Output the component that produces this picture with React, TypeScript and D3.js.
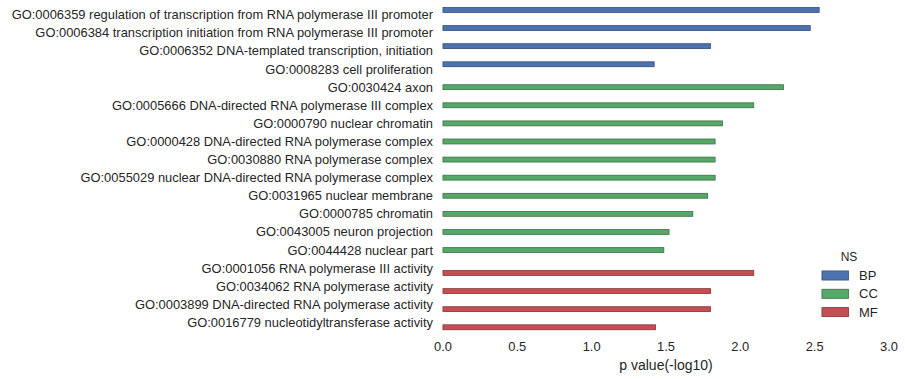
import React from "react";
import * as d3 from "d3";

const terms = [
  "GO:0006359 regulation of transcription from RNA polymerase III promoter",
  "GO:0006384 transcription initiation from RNA polymerase III promoter",
  "GO:0006352 DNA-templated transcription, initiation",
  "GO:0008283 cell proliferation",
  "GO:0030424 axon",
  "GO:0005666 DNA-directed RNA polymerase III complex",
  "GO:0000790 nuclear chromatin",
  "GO:0000428 DNA-directed RNA polymerase complex",
  "GO:0030880 RNA polymerase complex",
  "GO:0055029 nuclear DNA-directed RNA polymerase complex",
  "GO:0031965 nuclear membrane",
  "GO:0000785 chromatin",
  "GO:0043005 neuron projection",
  "GO:0044428 nuclear part",
  "GO:0001056 RNA polymerase III activity",
  "GO:0034062 RNA polymerase activity",
  "GO:0003899 DNA-directed RNA polymerase activity",
  "GO:0016779 nucleotidyltransferase activity",
];
const namespaces = ["BP", "BP", "BP", "BP", "CC", "CC", "CC", "CC", "CC", "CC", "CC", "CC", "CC", "CC", "MF", "MF", "MF", "MF"];
const pvalues = [2.53, 2.47, 1.80, 1.42, 2.29, 2.09, 1.88, 1.83, 1.83, 1.83, 1.78, 1.68, 1.52, 1.485, 2.09, 1.80, 1.80, 1.43];
const hueOrder = ["BP", "CC", "MF"];
const hueColors = ["#4C72B0", "#55A868", "#C44E52"];
const xTicks = [0, 0.5, 1.0, 1.5, 2.0, 2.5, 3.0];

const W = 905;
const H = 379;
const left = 443;
const right = 889;
const top = 5.75;
const bottom = 331.5;
const font = "'Liberation Sans', Arial, sans-serif";
const textColor = "#262626";

export default function App() {
  const x = d3.scaleLinear().domain([0, 3]).range([left, right]);
  const y = d3.scaleBand<string>().domain(terms).range([top, bottom]).paddingInner(0).paddingOuter(0);
  const color = d3.scaleOrdinal<string, string>().domain(hueOrder).range(hueColors);
  const bw = y.bandwidth();
  const barH = (bw * 0.8) / 3;
  const hueOffset = d3.scaleBand<string>().domain(hueOrder).range([bw * 0.1, bw * 0.9]);

  return (
    <svg width={W} height={H} style={{ position: "absolute", left: 0, top: 0, background: "#fff" }}>
      {terms.map((t, i) => {
        const ns = namespaces[i];
        const yy = (y(t) as number) + (hueOffset(ns) as number);
        const c = color(ns);
        const w = x(pvalues[i]) - x(0);
        return (
          <g key={t}>
            <rect x={x(0) - 0.5} y={yy - 0.5} width={w + 1} height={barH + 1} fill="#cfcfcf" />
            <rect x={x(0)} y={yy} width={w} height={barH} fill={c} stroke={d3.color(c)!.darker(0.9).toString()} strokeWidth={0.8} />
            <text x={left - 10} y={(y(t) as number) + bw / 2} textAnchor="end" dominantBaseline="central" fontFamily={font} fontSize={12.9} fill={textColor}>
              {t}
            </text>
          </g>
        );
      })}
      {xTicks.map((v) => (
        <text key={v} x={x(v)} y={346} textAnchor="middle" dominantBaseline="central" fontFamily={font} fontSize={12.9} fill={textColor}>
          {v.toFixed(1)}
        </text>
      ))}
      <text x={(left + right) / 2} y={365} textAnchor="middle" dominantBaseline="central" fontFamily={font} fontSize={14} fill={textColor}>
        p value(-log10)
      </text>
      <g>
        <text x={849} y={257} textAnchor="middle" dominantBaseline="central" fontFamily={font} fontSize={12} fill={textColor}>
          NS
        </text>
        {hueOrder.map((h, i) => {
          const c = color(h);
          const yy = 271 + i * 18.3;
          return (
            <g key={h}>
              <rect x={821.5} y={yy - 0.5} width={27.5} height={10} fill="#cfcfcf" />
              <rect x={822} y={yy} width={26.5} height={9} fill={c} stroke={d3.color(c)!.darker(0.9).toString()} strokeWidth={0.8} />
              <text x={859} y={yy + 4.5} dominantBaseline="central" fontFamily={font} fontSize={13} fill={textColor}>
                {h}
              </text>
            </g>
          );
        })}
      </g>
    </svg>
  );
}
